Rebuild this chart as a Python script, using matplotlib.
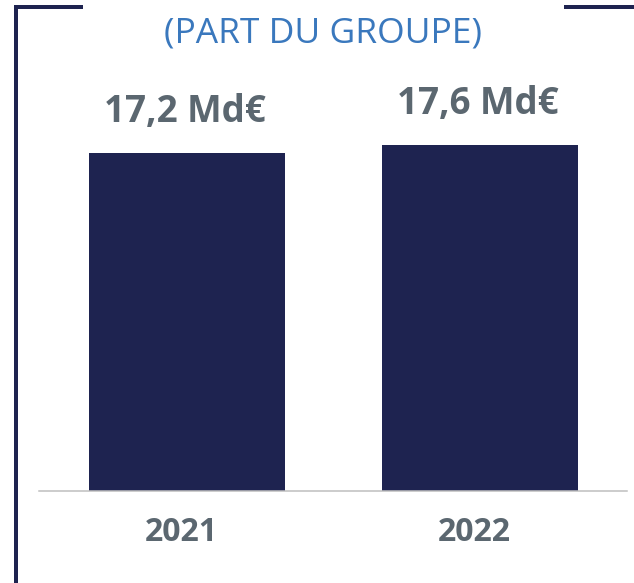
import matplotlib
matplotlib.use('Agg')
import matplotlib.pyplot as plt
from matplotlib.lines import Line2D

years = ['2021', '2022']
values = [17.2, 17.6]
value_labels = ['17,2 Md€', '17,6 Md€']

W, H = 634, 583
navy = '#1E2350'
grey = '#5B6770'

plt.rcParams['font.family'] = ['Open Sans', 'DejaVu Sans']

fig = plt.figure(figsize=(W / 100, H / 100), dpi=100)
# axes: baseline at y=491px, x from 39px to 627px
ax = fig.add_axes([39 / W, (H - 491) / H, 588 / W, 491 / H])
ax.bar(range(len(years)), values, width=0.668, color=navy)
ax.set_xlim(-0.505, 1.5)
ax.set_ylim(0, 25)

for spine in ['top', 'right', 'left']:
    ax.spines[spine].set_visible(False)
ax.spines['bottom'].set_color('#BFBFBF')
ax.spines['bottom'].set_linewidth(1.1)
ax.set_xticks([])
ax.set_yticks([])
ax.patch.set_alpha(0)

for i, (v, lab) in enumerate(zip(values, value_labels)):
    ax.annotate(lab, (i, v), xytext=(-1.5, 22.5), textcoords='offset points',
                ha='center', va='baseline', fontsize=26.5, fontweight='bold', color=grey)
    ax.annotate(years[i], (i, 0), xytext=(-4.5, -36), textcoords='offset points',
                ha='center', va='baseline', fontsize=23, fontweight='bold', color=grey,
                annotation_clip=False)

fig.text(323 / W, 1 - 43 / H, '(PART DU GROUPE)', ha='center', va='baseline',
         fontsize=25.5, color='#3A78BD')

# frame lines
lw = 4 * 72 / 100
fig.add_artist(Line2D([16 / W, 16 / W], [0, 1 - 5 / H], color=navy, lw=lw,
                      solid_capstyle='butt'))
fig.add_artist(Line2D([14 / W, 83 / W], [1 - 7 / H, 1 - 7 / H], color=navy, lw=lw,
                      solid_capstyle='butt'))
fig.add_artist(Line2D([564 / W, 1], [1 - 7 / H, 1 - 7 / H], color=navy, lw=lw,
                      solid_capstyle='butt'))

fig.savefig('out.png', dpi=100)
